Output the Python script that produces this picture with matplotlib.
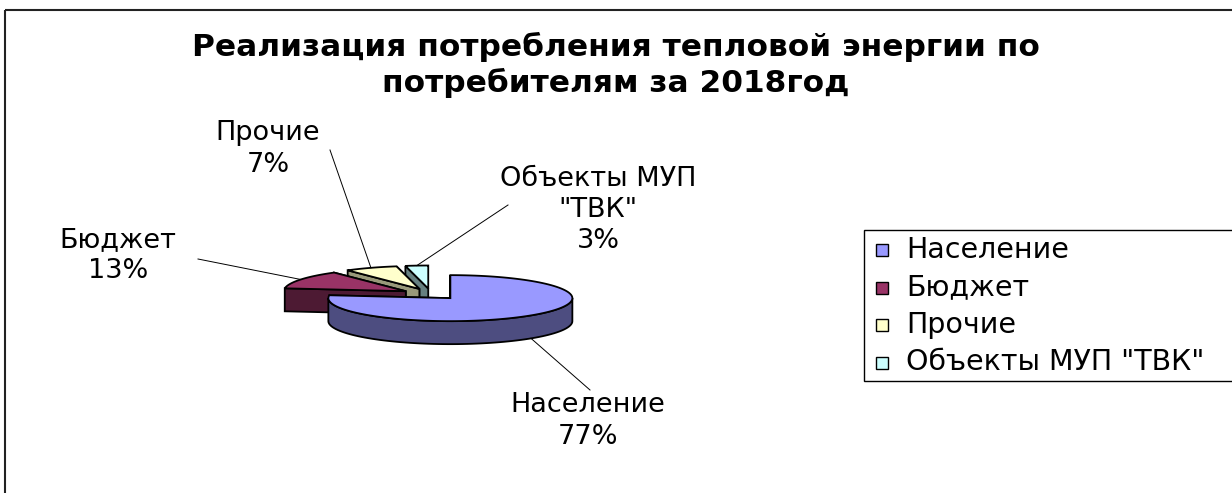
import numpy as np
import matplotlib.pyplot as plt
from matplotlib.patches import Polygon, Rectangle

# data
categories = ["Население", "Бюджет", "Прочие", 'Объекты МУП "ТВК"']
shares = [77, 13, 7, 3]
label_texts = ["Население\n77%", "Бюджет\n13%", "Прочие\n7%", 'Объекты МУП\n"ТВК"\n3%']
top_colors = ["#9999FF", "#993366", "#FFFFCC", "#CCFFFF"]
side_colors = ["#4D4D80", "#4D1A33", "#99997A", "#668080"]

title = "Реализация потребления тепловой энергии по\nпотребителям за 2018год"

# layout (pixel space, y downwards)
W, H = 1232, 493
CX, CY = 431, 294
RX, RY = 122, 23
DEPTH = 23
EXPLODE = 0.24
label_pos = [(588, 421), (118, 256), (268, 149), (598, 210)]
line_start = [(590, 390), (198, 259), (330, 150), (508, 205)]

plt.rcParams["font.family"] = ["DejaVu Sans"]

fig = plt.figure(figsize=(W / 100, H / 100), dpi=100)
ax = fig.add_axes([0, 0, 1, 1])
ax.set_xlim(0, W)
ax.set_ylim(H, 0)
ax.axis("off")

# chart frame
ax.add_patch(Rectangle((5, 10), W + 20, H + 20, fill=False, ec="#222222", lw=1.5))


def arc_pt(ox, oy, t):
    r = np.radians(t)
    return ox + RX * np.sin(r), oy - RY * np.cos(r)


# slice angles, clockwise from 12 o'clock
total = sum(shares)
bounds = np.concatenate([[0], np.cumsum(shares)]) / total * 360
slices = []
for i in range(len(shares)):
    a, b = bounds[i], bounds[i + 1]
    m = (a + b) / 2
    ox = CX + EXPLODE * RX * np.sin(np.radians(m))
    oy = CY - EXPLODE * RY * np.cos(np.radians(m))
    slices.append((i, a, b, m, ox, oy))

# back to front
for i, a, b, m, ox, oy in sorted(slices, key=lambda s: s[5]):
    faces = []
    for t in (a, b):
        px, py = arc_pt(ox, oy, t)
        quad = [(ox, oy), (px, py), (px, py + DEPTH), (ox, oy + DEPTH)]
        faces.append(((oy + py) / 2, quad))
    for _, quad in sorted(faces, key=lambda f: f[0]):
        ax.add_patch(Polygon(quad, closed=True, fc=side_colors[i], ec="black", lw=1.3))
    # front part of the outer wall
    lo, hi = max(a, 90), min(b, 270)
    if hi > lo:
        ts = np.linspace(lo, hi, 80)
        xs, ys = arc_pt(ox, oy, ts)
        wall = list(zip(xs, ys)) + list(zip(xs[::-1], ys[::-1] + DEPTH))
        ax.add_patch(Polygon(wall, closed=True, fc=side_colors[i], ec="black", lw=1.3))
    ts = np.linspace(a, b, 120)
    xs, ys = arc_pt(ox, oy, ts)
    top = [(ox, oy)] + list(zip(xs, ys))
    ax.add_patch(Polygon(top, closed=True, fc=top_colors[i], ec="black", lw=1.3))

# labels with leader lines
for i, a, b, m, ox, oy in slices:
    ex, ey = arc_pt(ox, oy, m)
    if np.cos(np.radians(m)) < 0:
        ey += DEPTH
    sx, sy = line_start[i]
    ax.plot([sx, ex], [sy, ey], color="black", lw=0.7)
    lx, ly = label_pos[i]
    ax.text(lx, ly, label_texts[i], ha="center", va="center", fontsize=19.5,
            linespacing=1.25, color="black")

ax.text(616, 65, title, ha="center", va="center", fontsize=22.5, fontweight="bold",
        linespacing=1.25)

# legend
ax.add_patch(Rectangle((864, 230), 400, 151, fc="white", ec="black", lw=1.0))
for k, name in enumerate(categories):
    yk = 250 + k * 37.5
    ax.add_patch(Rectangle((876, yk - 6), 12, 12, fc=top_colors[k], ec="black", lw=1.0))
    ax.text(906, yk, name, ha="left", va="center", fontsize=20.5)

fig.savefig("out.png", dpi=100)
